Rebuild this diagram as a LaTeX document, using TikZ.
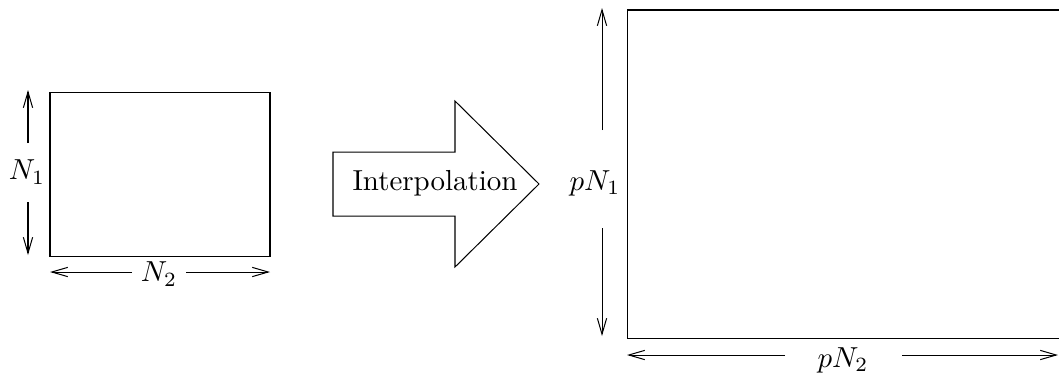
\documentclass[tikz,border=0pt]{standalone}
\usetikzlibrary{arrows.meta}

\begin{document}
\begin{tikzpicture}[
    x=0.3454pt, y=-0.3454pt,
    line width=0.35pt,
    plane/.style={draw},
    dim/.style={-{Straight Barb[length=5.5pt, width=3.2pt]}},
    lbl/.style={inner sep=0pt},
    bigarrow/.style={draw, line join=miter},
]

%% ── Frame: page size of the reference, right edge cut off ───────────────────
\useasboundingbox (0,0) rectangle (1059,372);
\clip (0,0) rectangle (1059,372);

%% ── Small image N1 x N2 ─────────────────────────────────────────────────────
\coordinate (smNW) at (50,92);
\coordinate (smSE) at (270,256);
\draw[plane] (smNW) rectangle (smSE);

\node[lbl] (n1) at (27,172) {$N_1$};
\coordinate (n1up)   at (28,143);
\coordinate (n1top)  at (28,90);
\coordinate (n1down) at (28,202);
\coordinate (n1bot)  at (28,255);
\draw[dim] (n1up) -- (n1top);
\draw[dim] (n1down) -- (n1bot);

\node[lbl] (n2) at (159,274) {$N_2$};
\coordinate (n2lft)  at (132,272);
\coordinate (n2west) at (50,272);
\coordinate (n2rgt)  at (186,272);
\coordinate (n2east) at (270,272);
\draw[dim] (n2lft) -- (n2west);
\draw[dim] (n2rgt) -- (n2east);

%% ── Block arrow with its label ──────────────────────────────────────────────
\draw[bigarrow] (333,152) -- (455,152) -- (455,101) -- (539,184)
    -- (455,267) -- (455,216) -- (333,216) -- cycle;
\node[lbl] (interp) at (435,183) {Interpolation};

%% ── Large image pN1 x pN2 ───────────────────────────────────────────────────
\coordinate (lgNW) at (627,10);
\coordinate (lgSE) at (1070,338);
\draw[plane] (lgNW) rectangle (lgSE);

\node[lbl] (pn1) at (595,183) {$pN_1$};
\coordinate (pn1up)   at (602,130);
\coordinate (pn1top)  at (602,8);
\coordinate (pn1down) at (602,228);
\coordinate (pn1bot)  at (602,336);
\draw[dim] (pn1up) -- (pn1top);
\draw[dim] (pn1down) -- (pn1bot);

\node[lbl] (pn2) at (843,360) {$pN_2$};
\coordinate (pn2lft)  at (785,355);
\coordinate (pn2west) at (627,355);
\coordinate (pn2rgt)  at (902,355);
\coordinate (pn2east) at (1058,355);
\draw[dim] (pn2lft) -- (pn2west);
\draw[dim] (pn2rgt) -- (pn2east);

\end{tikzpicture}
\end{document}
